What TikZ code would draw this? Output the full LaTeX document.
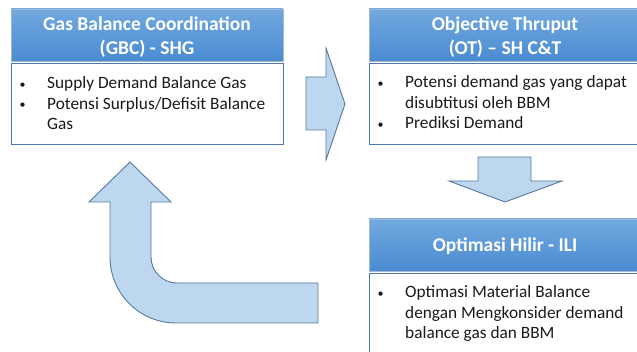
\documentclass[tikz,border=0pt]{standalone}
\usepackage{fontspec}
\setmainfont{Carlito}
\definecolor{hdrtop}{HTML}{72A9DF}
\definecolor{hdrbot}{HTML}{4A8BD1}
\definecolor{hdrline}{HTML}{A3B8D2}
\definecolor{boxline}{HTML}{4E79A8}
\definecolor{arrfill}{HTML}{BDD7EE}
\definecolor{arrline}{HTML}{56789F}
\definecolor{bodytext}{HTML}{1A1A1A}
\tikzset{
  header/.style={draw=hdrline, line width=0.8pt, top color=hdrtop, bottom color=hdrbot,
    inner sep=0pt, minimum width=272pt, minimum height=52pt},
  title/.style={text=white, font=\fontsize{19.5}{24}\selectfont\bfseries, align=center,
    inner sep=0pt},
  bodybox/.style={draw=boxline, line width=1pt, fill=white, inner sep=0pt,
    minimum width=272pt, anchor=north},
  bodytxt/.style={font=\fontsize{17.3}{20.5}\selectfont, text=bodytext, inner sep=0pt,
    anchor=base west},
  blockarrow/.style={draw=arrline, line width=0.9pt, fill=arrfill, line join=miter}
}
% small list bullet
\newcommand{\lbul}{\hspace*{1.5pt}{\fontsize{12}{12}\selectfont\raisebox{0.6pt}{\textbullet}}}
\newcommand{\bulletlist}[1]{\begin{tabular}[t]{@{}p{29pt}@{}l@{}}#1\end{tabular}}
\begin{document}
\begin{tikzpicture}[x=1pt,y=-1pt]
\useasboundingbox (0,0) rectangle (637,352);
\clip (0,0) rectangle (637,352);

% top-left block: GBC
\node[header] (gbc) at (147,35) {};
\node[title] (gbctitle) at ([yshift=-2pt]gbc.center) {Gas Balance Coordination\\(GBC) - SHG};
\node[bodybox, minimum height=81pt] (gbcbody) at (147,63) {};
\node[bodytxt] (gbctxt) at (18,89) {\bulletlist{%
  \lbul & Supply Demand Balance Gas\\
  \lbul & Potensi Surplus/Defisit Balance\\
        & Gas}};

% top-right block: OT
\node[header] (ot) at (505,35) {};
\node[title] (ottitle) at ([yshift=-2pt]ot.center) {Objective Thruput\\(OT) – SH C\&T};
\node[bodybox, minimum height=81pt] (otbody) at (505,63) {};
\node[bodytxt] (ottxt) at (376,88) {\bulletlist{%
  \lbul & Potensi demand gas yang dapat\\
        & disubtitusi oleh BBM\\
  \lbul & Prediksi Demand}};

% bottom-right block: ILI
\node[header] (ili) at (505,245) {};
\node[title] (ilititle) at ([yshift=-1.5pt]ili.center) {Optimasi Hilir - ILI};
\node[bodybox, minimum height=90pt] (ilibody) at (505,273) {};
\node[bodytxt] (ilitxt) at (376,298) {\bulletlist{%
  \lbul & Optimasi Material Balance\\
        & dengan Mengkonsider demand\\
        & balance gas dan BBM}};

% block arrow pointing right
\draw[blockarrow] (306,77) -- (326,77) -- (326,48) -- (345,104) -- (326,160)
  -- (326,130) -- (306,130) -- cycle;

% block arrow pointing down
\draw[blockarrow] (478,157) -- (531,157) -- (531,181) -- (562,181) -- (505,202)
  -- (449,181) -- (478,181) -- cycle;

% bent block arrow pointing up
\draw[blockarrow] (318,283) -- (177,283) arc[start angle=90, end angle=180, radius=26]
  -- (151,202) -- (171,202) -- (130,162) -- (89,202) -- (110,202) -- (110,257)
  arc[start angle=180, end angle=90, radius=66] -- (318,323) -- cycle;
\end{tikzpicture}
\end{document}
